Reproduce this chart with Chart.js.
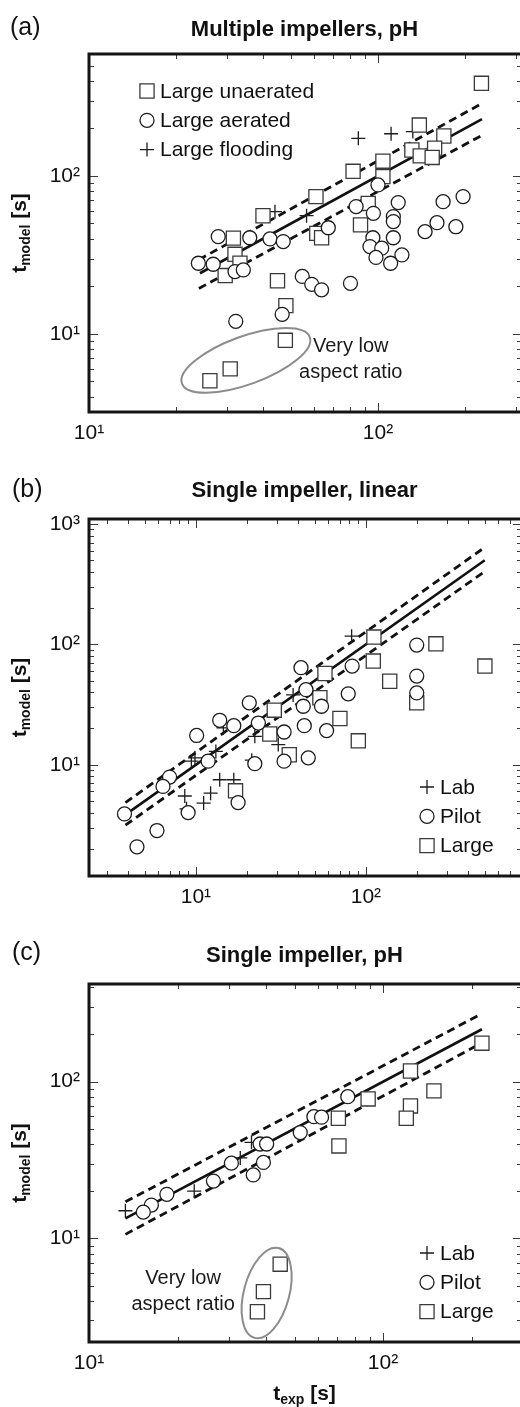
<!DOCTYPE html>
<html lang="en">
<head>
<meta charset="UTF-8">
<meta name="viewport" content="width=device-width, initial-scale=1.0">
<title>Mixing time: model vs experiment</title>
<script src="https://cdn.jsdelivr.net/npm/chart.js"></script>
<style>
  body {
    margin: 0;
    width: 520px;
    height: 1407px;
    overflow: hidden;
    position: relative;
    background: #ffffff;
  }
  canvas {
    position: absolute;
    left: 0;
  }
</style>
</head>
<body>
<canvas id="panelA" width="524" height="465" style="top:0px"></canvas>
<canvas id="panelB" width="524" height="465" style="top:465px"></canvas>
<canvas id="panelC" width="524" height="477" style="top:930px"></canvas>

<script>
// all values are [t_exp, t_model] in seconds

// (a) Multiple impellers, pH
const aUnaerated = [
  [228, 386], [139, 210], [169, 179], [131, 146], [157, 150], [140, 134], [154, 131], [104, 124],
  [82, 107], [104, 99], [61, 74], [92.5, 67], [40, 56], [87, 49], [61.4, 43.3], [63.8, 40.6],
  [31.6, 40.4], [32, 31.9], [33.3, 28], [29.6, 23.4], [44.9, 21.7], [48, 15.1], [47.8, 9.1],
  [30.8, 6.0], [26.2, 5.05]
];
const aAerated = [
  [197, 74], [168, 68.7], [117.5, 67.8], [100, 87.7], [84, 64], [96.4, 58], [113, 55.3], [113, 51.4],
  [160, 50.6], [186, 47.7], [145.5, 44.4], [67.3, 47], [28, 41.3], [36, 40.6], [42.3, 39.9], [47, 38.4],
  [23.9, 28], [26.9, 27.6], [32, 24.8], [34.2, 25.4], [96, 40.6], [113, 40.6], [93.8, 35.7], [103, 34.9],
  [98.4, 30.5], [110.6, 28], [121, 31.6], [54.7, 23.1], [59, 20.6], [63.8, 19], [80.3, 20.9],
  [46.6, 13.3], [32.2, 12]
];
const aFlooding = [[85.5, 173], [111, 185], [132, 191], [44, 59.4], [56.6, 56]];
const aFitX = [24.2, 229];
const aFit = [24.2, 229];
const aBandX = [24, 229];
const aUpper = [29.5, 288];
const aLower = [19.4, 181];
const aRangeX = [10, 315];
const aRangeY = [3.2, 592];

// (b) Single impeller, linear
const bLab = [
  [82.4, 117], [37.3, 38], [14.5, 20.2], [22.2, 17.2], [30.5, 14.7], [13.1, 12.9], [9.87, 11.4],
  [9.4, 10.7], [21.3, 10.9], [13.8, 7.5], [16.7, 7.5], [8.6, 5.5], [12.2, 5.8], [11.1, 4.8], [8.8, 4.3]
];
const bPilot = [
  [199, 98.6], [199, 54.5], [83, 66], [41.5, 64], [44.4, 42], [78.7, 38.8], [199, 39.5], [20.6, 32.7],
  [42.8, 30.6], [54.8, 30.6], [13.8, 23.4], [16.7, 21.1], [23.3, 22.2], [43.4, 21.1], [10.1, 17.5],
  [33, 18.7], [58.7, 19.2], [11.8, 10.7], [22.2, 10.2], [33, 10.7], [45.8, 11.4], [7.0, 7.9],
  [6.4, 6.6], [3.8, 3.9], [9.0, 4.0], [17.7, 4.85], [5.9, 2.84], [4.5, 2.08]
];
const bLarge = [
  [111.4, 115], [258, 101], [501, 66], [110.5, 72.6], [57.4, 57.3], [138, 49.4], [53.6, 36],
  [199, 32.7], [28.9, 28.4], [70.3, 24.2], [27.2, 18], [90.2, 15.8], [35.4, 12.1], [17.1, 6.07]
];
const bFitX = [4.1, 500];
const bFit = [4.1, 500];
const bBandX = [3.85, 490];
const bUpper = [4.85, 627];
const bLower = [3.15, 395];
const bRangeX = [2.35, 828];
const bRangeY = [1.19, 1100];

// (c) Single impeller, pH
const cLab = [[13.3, 15.0], [22.8, 20.0], [32.7, 32.6], [35.7, 41]];
const cPilot = [
  [75.9, 80.2], [58.2, 59.8], [61.8, 59.3], [52.3, 47.3], [38.2, 40], [40.2, 40], [39.2, 30.5],
  [30.5, 30.2], [36.2, 25.4], [26.5, 23.2], [18.4, 19.1], [16.3, 16.3], [15.3, 14.7]
];
const cLarge = [
  [217, 176], [124, 117], [149, 87.3], [89, 77.6], [124, 70], [120, 58.4], [70.5, 58.4],
  [70.8, 38.9], [44.7, 6.84], [39.2, 4.57], [37.4, 3.4]
];
const cFitX = [13.3, 217];
const cFit = [13.4, 216];
const cBandX = [13.3, 210];
const cUpper = [17.1, 263];
const cLower = [10.6, 171];
const cRangeX = [10, 297];
const cRangeY = [2.18, 420];

// axis labels at each decade
const tickValues = [1, 10, 100, 1000];
const tickLabels = ['10\u2070', '10\u00B9', '10\u00B2', '10\u00B3'];

const FONT = '"Liberation Sans", Arial, Helvetica, sans-serif';
Chart.defaults.font.family = FONT;
Chart.defaults.color = '#111';

const markers = {
  square: { pointStyle: 'rect', pointRadius: 10, color: '#3a3a3a' },
  circle: { pointStyle: 'circle', pointRadius: 7, color: '#1c1c1c' },
  plus: { pointStyle: 'cross', pointRadius: 7, color: '#1c1c1c' }
};

function toPoints(pairs) {
  return pairs.map(p => ({ x: p[0], y: p[1] }));
}

function scatterSet(label, pairs, m) {
  return {
    label: label,
    data: toPoints(pairs),
    showLine: false,
    pointStyle: m.pointStyle,
    pointRadius: m.pointRadius,
    pointHoverRadius: m.pointRadius,
    pointBorderColor: m.color,
    pointBackgroundColor: '#ffffff',
    pointBorderWidth: 1.3
  };
}

function lineSet(xs, ys, dashed) {
  return {
    data: xs.map((x, i) => ({ x: x, y: ys[i] })),
    showLine: true,
    borderColor: '#111',
    borderWidth: dashed ? 2.8 : 2.6,
    borderDash: dashed ? [8, 5] : [],
    pointRadius: 0,
    fill: false
  };
}

// inward tick positions for a log axis (1..9 x 10^n)
function logMarks(min, max) {
  const out = [];
  for (let e = Math.floor(Math.log10(min)); e <= Math.ceil(Math.log10(max)); e++) {
    for (let k = 1; k <= 9; k++) {
      const v = k * Math.pow(10, e);
      if (v >= min && v <= max) out.push({ v: v, major: k === 1 });
    }
  }
  return out;
}

function drawMarker(ctx, m, x, y) {
  const r = m.pointRadius;
  ctx.save();
  ctx.lineWidth = 1.3;
  ctx.strokeStyle = m.color;
  ctx.fillStyle = '#ffffff';
  ctx.beginPath();
  if (m.pointStyle === 'rect') {
    const s = r * Math.SQRT1_2;
    ctx.rect(x - s, y - s, 2 * s, 2 * s);
    ctx.fill();
  } else if (m.pointStyle === 'circle') {
    ctx.arc(x, y, r, 0, Math.PI * 2);
    ctx.fill();
  } else {
    ctx.moveTo(x - r, y); ctx.lineTo(x + r, y);
    ctx.moveTo(x, y - r); ctx.lineTo(x, y + r);
  }
  ctx.stroke();
  ctx.restore();
}

// text with a subscript part: parts = [[text, font, dy], ...], centred on x
function drawParts(ctx, parts, x, y) {
  let w = 0;
  parts.forEach(p => { ctx.font = p[1]; w += ctx.measureText(p[0]).width; });
  let cx = x - w / 2;
  ctx.textAlign = 'left';
  ctx.textBaseline = 'alphabetic';
  parts.forEach(p => {
    ctx.font = p[1];
    ctx.fillText(p[0], cx, y + p[2]);
    cx += ctx.measureText(p[0]).width;
  });
}

const bold = 'bold 21px ' + FONT;
const boldSub = 'bold 14px ' + FONT;

function decoPlugin(cfg) {
  return {
    id: 'deco',
    afterDraw(chart) {
      const ctx = chart.ctx;
      const a = chart.chartArea;
      const xs = chart.scales.x;
      const ys = chart.scales.y;
      ctx.save();

      // annotation ellipse and text
      if (cfg.note) {
        const n = cfg.note;
        ctx.strokeStyle = '#8c8c8c';
        ctx.lineWidth = 2;
        ctx.beginPath();
        ctx.ellipse(xs.getPixelForValue(n.ex), ys.getPixelForValue(n.ey), n.rx, n.ry,
          n.angle * Math.PI / 180, 0, Math.PI * 2);
        ctx.stroke();
        ctx.fillStyle = '#1a1a1a';
        ctx.font = '20px ' + FONT;
        ctx.textAlign = 'center';
        ctx.textBaseline = 'middle';
        const tx = xs.getPixelForValue(n.tx);
        const ty = ys.getPixelForValue(n.ty);
        ctx.fillText('Very low', tx, ty - 13);
        ctx.fillText('aspect ratio', tx, ty + 13);
      }

      // inward tick marks on all four sides
      ctx.strokeStyle = '#3a3a3a';
      ctx.lineWidth = 1;
      ctx.beginPath();
      logMarks(xs.min, xs.max).forEach(t => {
        const px = Math.round(xs.getPixelForValue(t.v)) + 0.5;
        if (px < a.left + 3 || px > a.right - 3) return;
        const len = t.major ? 9 : 5;
        ctx.moveTo(px, a.top); ctx.lineTo(px, a.top + len);
        ctx.moveTo(px, a.bottom); ctx.lineTo(px, a.bottom - len);
      });
      logMarks(ys.min, ys.max).forEach(t => {
        const py = Math.round(ys.getPixelForValue(t.v)) + 0.5;
        if (py < a.top + 3 || py > a.bottom - 3) return;
        const len = t.major ? 9 : 5;
        ctx.moveTo(a.left, py); ctx.lineTo(a.left + len, py);
        ctx.moveTo(a.right, py); ctx.lineTo(a.right - len, py);
      });
      ctx.stroke();

      // frame
      ctx.strokeStyle = '#151515';
      ctx.lineWidth = 3;
      ctx.strokeRect(a.left, a.top, a.right - a.left, a.bottom - a.top);

      // legend inside the plot
      const lg = cfg.legend;
      lg.items.forEach((it, i) => {
        const mx = a.left + lg.x;
        const my = a.top + lg.y + i * 29.3;
        drawMarker(ctx, markers[it[0]], mx, my);
        ctx.fillStyle = '#111';
        ctx.font = '21px ' + FONT;
        ctx.textAlign = 'left';
        ctx.textBaseline = 'middle';
        ctx.fillText(it[1], mx + 13, my + 1);
      });

      // panel letter and title
      ctx.fillStyle = '#111';
      ctx.font = '25px ' + FONT;
      ctx.textAlign = 'left';
      ctx.textBaseline = 'alphabetic';
      ctx.fillText(cfg.letter, cfg.letterX, cfg.letterY);
      ctx.font = 'bold 22px ' + FONT;
      ctx.textAlign = 'center';
      ctx.fillText(cfg.title, (a.left + 520) / 2, cfg.titleY);

      // y axis title, rotated
      ctx.save();
      ctx.translate(26, (a.top + a.bottom) / 2);
      ctx.rotate(-Math.PI / 2);
      drawParts(ctx, [['t', bold, 0], ['model', boldSub, 4], [' [s]', bold, 0]], 0, 0);
      ctx.restore();

      // x axis title (bottom panel only)
      if (cfg.xTitle) {
        drawParts(ctx, [['t', bold, 0], ['exp', boldSub, 4], [' [s]', bold, 0]], (a.left + 520) / 2, cfg.xTitleY);
      }
      ctx.restore();
    }
  };
}

function logAxis(range, isX, size) {
  return {
    type: 'logarithmic',
    position: isX ? 'bottom' : 'left',
    min: range[0],
    max: range[1],
    grid: { display: false, drawTicks: false },
    border: { display: false },
    ticks: {
      autoSkip: false,
      maxRotation: 0,
      padding: 9,
      color: '#111',
      font: { size: 21 },
      callback: v => tickLabels[tickValues.indexOf(v)] || ''
    },
    afterBuildTicks: scale => {
      scale.ticks = tickValues
        .filter(v => v >= range[0] * 0.999 && v <= range[1] * 1.001)
        .map(v => ({ value: v }));
    },
    afterFit: scale => {
      // keep the plot box fixed: no extra room for overhanging labels
      scale.paddingLeft = 0;
      scale.paddingRight = 0;
      scale.paddingTop = 0;
      scale.paddingBottom = 0;
      if (isX) scale.height = size;
      else scale.width = 89;
    }
  };
}

function makePanel(id, height, bottom, datasets, rangeX, rangeY, cfg) {
  new Chart(document.getElementById(id), {
    type: 'scatter',
    data: { datasets: datasets },
    options: {
      responsive: false,
      animation: false,
      events: [],
      layout: { autoPadding: false, padding: { top: 54, right: 2, left: 0, bottom: 0 } },
      plugins: {
        legend: { display: false },
        tooltip: { enabled: false },
        title: { display: false }
      },
      scales: {
        x: logAxis(rangeX, true, height - bottom),
        y: logAxis(rangeY, false, 0)
      }
    },
    plugins: [decoPlugin(cfg)]
  });
}

// first dataset is drawn on top, so the fit lines go last
makePanel('panelA', 465, 412, [
  scatterSet('Large aerated', aAerated, markers.circle),
  scatterSet('Large unaerated', aUnaerated, markers.square),
  scatterSet('Large flooding', aFlooding, markers.plus),
  lineSet(aFitX, aFit, false),
  lineSet(aBandX, aUpper, true),
  lineSet(aBandX, aLower, true)
], aRangeX, aRangeY, {
  letter: '(a)', letterX: 10, letterY: 35,
  title: 'Multiple impellers, pH', titleY: 36,
  legend: { x: 58, y: 37, items: [['square', 'Large unaerated'], ['circle', 'Large aerated'], ['plus', 'Large flooding']] },
  note: { ex: 34.9, ey: 6.8, rx: 68, ry: 24, angle: -20, tx: 80.5, ty: 6.86 }
});

makePanel('panelB', 465, 411, [
  scatterSet('Pilot', bPilot, markers.circle),
  scatterSet('Large', bLarge, markers.square),
  scatterSet('Lab', bLab, markers.plus),
  lineSet(bFitX, bFit, false),
  lineSet(bBandX, bUpper, true),
  lineSet(bBandX, bLower, true)
], bRangeX, bRangeY, {
  letter: '(b)', letterX: 12, letterY: 32,
  title: 'Single impeller, linear', titleY: 32,
  legend: { x: 338, y: 268, items: [['plus', 'Lab'], ['circle', 'Pilot'], ['square', 'Large']] }
});

makePanel('panelC', 477, 412, [
  scatterSet('Pilot', cPilot, markers.circle),
  scatterSet('Large', cLarge, markers.square),
  scatterSet('Lab', cLab, markers.plus),
  lineSet(cFitX, cFit, false),
  lineSet(cBandX, cUpper, true),
  lineSet(cBandX, cLower, true)
], cRangeX, cRangeY, {
  letter: '(c)', letterX: 12, letterY: 30,
  title: 'Single impeller, pH', titleY: 32,
  legend: { x: 338, y: 269, items: [['plus', 'Lab'], ['circle', 'Pilot'], ['square', 'Large']] },
  note: { ex: 40.2, ey: 4.48, rx: 46.5, ry: 22.7, angle: -75, tx: 20.9, ty: 4.55 },
  xTitle: true, xTitleY: 470
});
</script>
</body>
</html>
